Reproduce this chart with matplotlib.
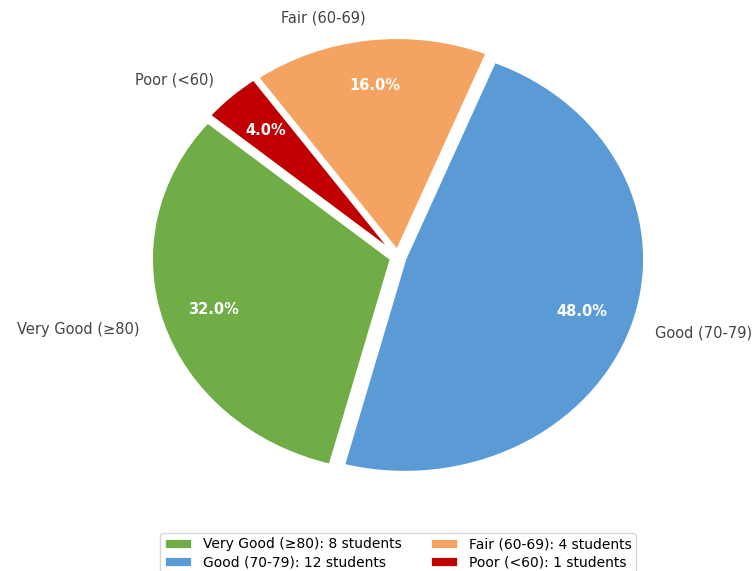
import matplotlib

matplotlib.use("Agg")
import matplotlib.pyplot as plt  # noqa: E402

plt.rcParams["font.family"] = ["DejaVu Sans"]

categories = ["Very Good (≥80)", "Good (70-79)", "Fair (60-69)", "Poor (<60)"]
students = [8, 12, 4, 1]
colors = ["#70AD47", "#5B9BD5", "#F4A460", "#C00000"]


def main():
    fig = plt.figure(figsize=(7.55, 5.71), dpi=100)
    # axes sized so the pie sits slightly wider than tall, legend below it
    ax = fig.add_axes([0.1305, 0.0832, 0.7934, 0.933])
    wedges, texts, autotexts = ax.pie(
        students, labels=categories, colors=colors, autopct="%1.1f%%",
        startangle=140, explode=[0.03] * len(students), pctdistance=0.78,
        labeldistance=1.1, wedgeprops={"edgecolor": "white", "linewidth": 2},
        textprops={"fontsize": 10.5, "color": "#444444"})
    for t in autotexts:
        t.set_color("white")
        t.set_fontweight("bold")
    ax.set_aspect("auto")
    ax.set_xlim(-1.25, 1.25)
    ax.set_ylim(-1.25, 1.25)

    fig.legend(wedges, [f"{c}: {n} students" for c, n in zip(categories, students)],
               loc="upper center", bbox_to_anchor=(398 / 755, 45 / 571), ncol=2,
               fontsize=10, labelspacing=0.3, borderpad=0.3, handleheight=0.9)
    fig.savefig("out.png", dpi=100, facecolor="white")
    plt.close(fig)


if __name__ == "__main__":
    main()
